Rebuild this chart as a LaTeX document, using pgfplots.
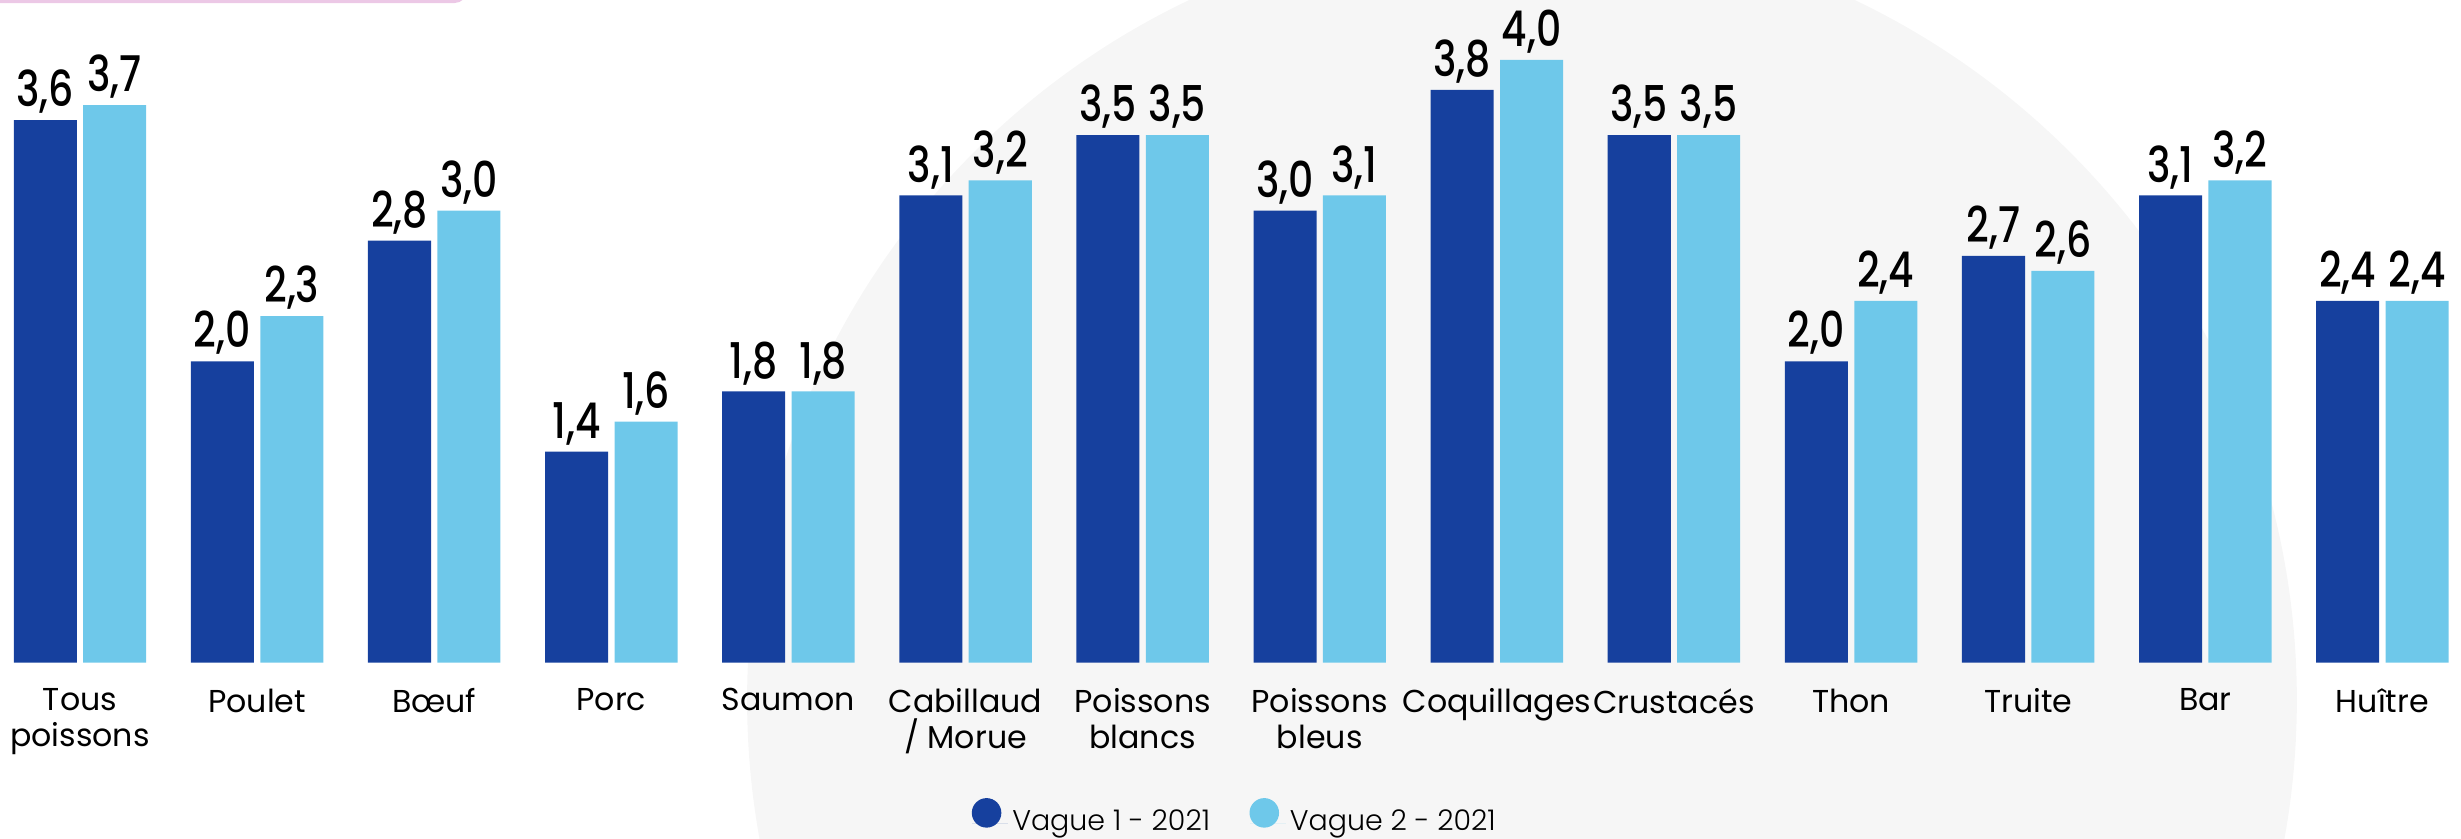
\documentclass[border=0pt]{standalone}
\usepackage{fontspec}
\setmainfont{Poppins}
\newfontfamily\poplight{Poppins Light}
\newfontfamily\popreg{Poppins}
\newfontfamily\popmed{Poppins Medium}[FakeStretch=0.8]
\usepackage{pgfplots}
\pgfplotsset{compat=1.18}
\definecolor{dblue}{RGB}{22,64,158}
\definecolor{lblue}{RGB}{110,200,234}
\definecolor{wm}{RGB}{246,246,246}
\definecolor{pinkb}{RGB}{236,200,230}
\begin{document}
\begin{tikzpicture}[x=1pt,y=1pt]
\useasboundingbox (0,-49.87) rectangle (700,188.5);
\fill[wm] (432.9,-10.6) circle[radius=220.4];
\draw[pinkb, line width=0.85pt, rounded corners=3pt] (-6,200) rectangle (132.3,188.07);
\begin{axis}[
  at={(0,0)}, anchor=south west,
  width=700pt, height=188.5pt, scale only axis,
  xmin=-0.4517, xmax=13.444, ymin=0, ymax=4.397,
  ybar, bar width=0.356,
  axis line style={draw=none}, tick style={draw=none}, ytick=\empty,
  xtick={0,...,13},
  xticklabels={{Tous\\poissons},Poulet,Bœuf,Porc,Saumon,{Cabillaud\\/ Morue},{Poissons\\blancs},{Poissons\\bleus},Coquillages,Crustacés,Thon,Truite,Bar,Huître},
  xticklabel style={font=\popreg\fontsize{9}{10.2}\selectfont, align=center, anchor=north, inner sep=0pt, yshift=-2.9pt},
  /pgf/number format/use comma, /pgf/number format/fixed, /pgf/number format/fixed zerofill, /pgf/number format/precision=1, /pgf/number format/assume math mode=true,
  nodes near coords,
  nodes near coords style={font=\popmed\fontsize{14}{14}\selectfont, anchor=base, inner sep=0pt, yshift=3.8pt},
  clip=false,
  legend style={at={(0.5022,-0.234)}, anchor=center, draw=none, fill=none, legend columns=2, font=\poplight\fontsize{8.1}{8.1}\selectfont, /tikz/every even column/.append style={column sep=10pt}, inner sep=0pt, nodes={inner xsep=1.2pt, inner ysep=0.5pt}},
  legend cell align=left,
]
\addplot[fill=dblue, draw=none, bar shift=-0.196, legend image code/.code={\path (0,0) rectangle (10.3pt,0pt);\fill[dblue] (4.2pt,2.8pt) circle[radius=4.2pt];}] coordinates {(0,3.6)(1,2.0)(2,2.8)(3,1.4)(4,1.8)(5,3.1)(6,3.5)(7,3.0)(8,3.8)(9,3.5)(10,2.0)(11,2.7)(12,3.1)(13,2.4)};
\addlegendentry{Vague 1 - 2021}
\addplot[fill=lblue, draw=none, bar shift=0.196, legend image code/.code={\path (0,0) rectangle (10.3pt,0pt);\fill[lblue] (4.2pt,2.8pt) circle[radius=4.2pt];}] coordinates {(0,3.7)(1,2.3)(2,3.0)(3,1.6)(4,1.8)(5,3.2)(6,3.5)(7,3.1)(8,4.0)(9,3.5)(10,2.4)(11,2.6)(12,3.2)(13,2.4)};
\addlegendentry{Vague 2 - 2021}
\end{axis}
\end{tikzpicture}
\end{document}
